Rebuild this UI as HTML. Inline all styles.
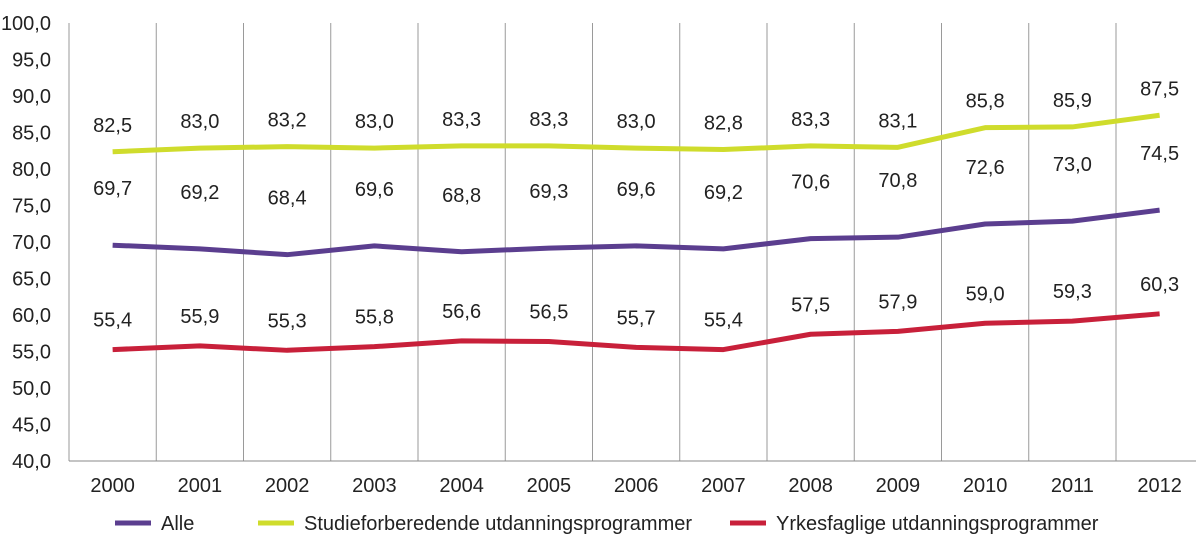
<!DOCTYPE html>
<html><head><meta charset="utf-8"><style>
body{margin:0;background:#fff;}
svg{display:block;font-family:"Liberation Sans",Arial,sans-serif;}
</style></head><body>
<svg id="chart" width="1200" height="553"></svg>
<script>
const years=['2000','2001','2002','2003','2004','2005','2006','2007','2008','2009','2010','2011','2012'];
const alle=[69.7,69.2,68.4,69.6,68.8,69.3,69.6,69.2,70.6,70.8,72.6,73.0,74.5];
const studie=[82.5,83.0,83.2,83.0,83.3,83.3,83.0,82.8,83.3,83.1,85.8,85.9,87.5];
const yrkes=[55.4,55.9,55.3,55.8,56.6,56.5,55.7,55.4,57.5,57.9,59.0,59.3,60.3];
const yTicks=[40,45,50,55,60,65,70,75,80,85,90,95,100];
const seriesNames=['Alle','Studieforberedende utdanningsprogrammer','Yrkesfaglige utdanningsprogrammer'];
const NS='http://www.w3.org/2000/svg';
const svg=document.getElementById('chart');
const L=69,T=23,B=461,R=1196,step=87.25,FS=20;
const y=v=>B-(v-40)/60*(B-T);
const xc=i=>L+step*(i+0.5);
function mk(tag,attrs,parent){const e=document.createElementNS(NS,tag);for(const k in attrs)e.setAttribute(k,attrs[k]);(parent||svg).appendChild(e);return e;}
const fmt=v=>v.toFixed(1).replace('.',',');
yTicks.forEach(t=>{const e=mk('text',{x:51,y:y(t)+7,'text-anchor':'end','font-size':FS,fill:'#222'});e.textContent=fmt(t);

});
for(let k=0;k<=years.length;k++){const x=L+step*k;if(x>R)break;const l=mk('line',{x1:x,y1:T,x2:x,y2:B,stroke:'#9a9a9a','stroke-width':1});

}
const ax=mk('line',{x1:L,y1:B,x2:R,y2:B,stroke:'#888','stroke-width':1});


years.forEach((yr,i)=>{const e=mk('text',{x:xc(i),y:B+31,'text-anchor':'middle','font-size':FS,fill:'#222'});e.textContent=yr;

});
const series=[{d:studie,c:'#cfdc2c',off:26,n:'studie'},{d:alle,c:'#5b3e8f',off:56,n:'alle'},{d:yrkes,c:'#c8203a',off:29,n:'yrkes'}];
series.forEach(s=>{
const p=mk('polyline',{points:s.d.map((v,i)=>xc(i)+','+(y(v)+1)).join(' '),fill:'none',stroke:s.c,'stroke-width':5,'stroke-linejoin':'round'});


s.d.forEach((v,i)=>{const t=mk('text',{x:xc(i),y:y(v)-s.off+7,'text-anchor':'middle','font-size':FS,fill:'#222'});t.textContent=fmt(v);

});
});
const leg=[{x:115,c:'#5b3e8f'},{x:258,c:'#cfdc2c'},{x:730,c:'#c8203a'}];
leg.forEach((g,i)=>{const l=mk('line',{x1:g.x,y1:523,x2:g.x+36,y2:523,stroke:g.c,'stroke-width':5});


const t=mk('text',{x:g.x+46,y:530,'font-size':FS,fill:'#222'});t.textContent=seriesNames[i];

});
</script>
</body></html>
